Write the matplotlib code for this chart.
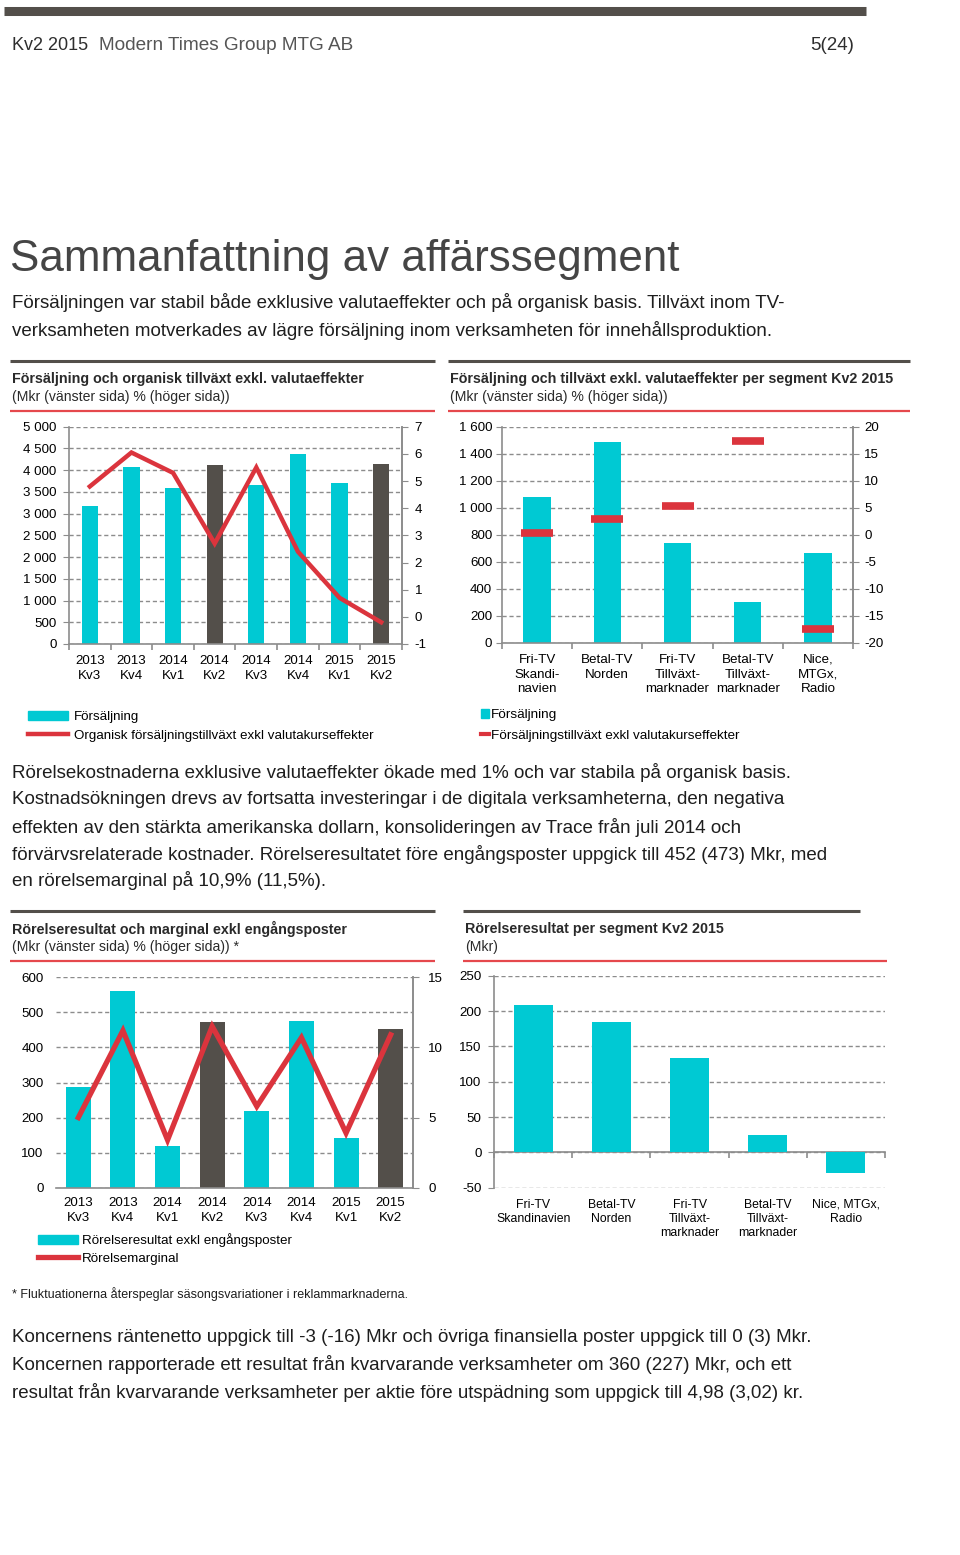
import matplotlib
matplotlib.use("Agg")
import matplotlib.pyplot as plt
import numpy as np
from matplotlib.lines import Line2D
from matplotlib.patches import Patch

W, H = 960, 1555

CYAN = "#00C9D3"
DARK = "#534F4A"
RED = "#DB343D"
RULE_RED = "#E5484D"
GRID = "#8C8C8C"
SPINE = "#8C8C8C"
TEXT = "#1E1E1E"

plt.rcParams["font.family"] = ["Liberation Sans", "DejaVu Sans"]
plt.rcParams["axes.unicode_minus"] = False

# --- data -------------------------------------------------------------
quarters = ["2013\nKv3", "2013\nKv4", "2014\nKv1", "2014\nKv2",
            "2014\nKv3", "2014\nKv4", "2015\nKv1", "2015\nKv2"]
q_highlight = [False, False, False, True, False, False, False, True]

sales = [3185, 4065, 3600, 4110, 3665, 4375, 3695, 4150]
organic_growth = [4.8, 6.05, 5.3, 2.7, 5.5, 2.4, 0.7, -0.2]

segments_a = ["Fri-TV\nSkandi-\nnavien", "Betal-TV\nNorden", "Fri-TV\nTillväxt-\nmarknader",
              "Betal-TV\nTillväxt-\nmarknader", "Nice,\nMTGx,\nRadio"]
segment_sales = [1080, 1490, 740, 305, 667]
segment_growth = [0.4, 2.9, 5.4, 17.4, -17.5]

ebit = [287, 562, 118, 473, 220, 476, 143, 452]
ebit_margin = [5.0, 11.2, 3.4, 11.5, 5.8, 10.7, 3.9, 10.9]

segments_b = ["Fri-TV\nSkandinavien", "Betal-TV\nNorden", "Fri-TV\nTillväxt-\nmarknader",
              "Betal-TV\nTillväxt-\nmarknader", "Nice, MTGx,\nRadio"]
segment_ebit = [208, 185, 133, 25, -29]


def sp(v):
    return f"{int(v):,}".replace(",", " ")


def axes_px(fig, left, top, right, bottom):
    return fig.add_axes([left / W, 1 - bottom / H, (right - left) / W, (bottom - top) / H])


def text_px(fig, x, y, s, **kw):
    kw.setdefault("va", "center")
    kw.setdefault("color", TEXT)
    fig.text(x / W, 1 - y / H, s, **kw)


def rule(fig, x0, x1, y, color, lw):
    fig.add_artist(Line2D([x0 / W, x1 / W], [1 - y / H, 1 - y / H],
                          color=color, lw=lw, solid_capstyle="butt"))


def header(fig, x0, x1, y_top, title, subtitle, x1_red=None):
    rule(fig, x0, x1, y_top, DARK, 2.2)
    text_px(fig, x0 + 2, y_top + 18, title, fontsize=10.3, fontweight="bold", color="#2a2a2a")
    text_px(fig, x0 + 2, y_top + 36, subtitle, fontsize=10.1, color="#2a2a2a")
    rule(fig, x0, x1_red or x1, y_top + 50, RULE_RED, 1.6)


def style_axis(ax, n):
    ax.spines["top"].set_visible(False)
    for s in ["left", "right", "bottom"]:
        ax.spines[s].set_color(SPINE)
        ax.spines[s].set_linewidth(1.2)
    ax.set_xlim(-0.5, n - 0.5)
    ax.set_xticks(np.arange(n))
    ax.set_xticks(np.arange(n + 1) - 0.5, minor=True)
    ax.tick_params(axis="x", which="major", length=0)
    ax.tick_params(axis="x", which="minor", length=4, color=SPINE, width=1.2)
    ax.yaxis.grid(True, color=GRID, ls=(0, (3, 2)), lw=1.0)
    ax.set_axisbelow(True)


def style_right(ax2):
    ax2.spines["top"].set_visible(False)
    ax2.spines["right"].set_color(SPINE)
    ax2.spines["right"].set_linewidth(1.2)
    ax2.spines["left"].set_visible(False)
    ax2.spines["bottom"].set_visible(False)
    ax2.tick_params(axis="y", length=4, color=SPINE, pad=5, labelsize=9.6)


fig = plt.figure(figsize=(W / 100, H / 100), dpi=100)

# --- page header ------------------------------------------------------
rule(fig, 4, 866, 11, DARK, 6.5)
text_px(fig, 12, 46, "Kv2 2015", fontsize=13, color="#2e2e2e")
text_px(fig, 99, 46, "Modern Times Group MTG AB", fontsize=13.7, color="#555555")
text_px(fig, 854, 46, "5(24)", fontsize=13.5, color="#2e2e2e", ha="right")

text_px(fig, 10, 259, "Sammanfattning av affärssegment", fontsize=31.7, color="#454545")
text_px(fig, 12, 303, "Försäljningen var stabil både exklusive valutaeffekter och på organisk basis. Tillväxt inom TV-",
        fontsize=13.5)
text_px(fig, 12, 330, "verksamheten motverkades av lägre försäljning inom verksamheten för innehållsproduktion.",
        fontsize=13.5)

# --- chart 1 ----------------------------------------------------------
header(fig, 10, 435, 361, "Försäljning och organisk tillväxt exkl. valutaeffekter",
       "(Mkr (vänster sida) % (höger sida))")
ax = axes_px(fig, 69, 426.7, 402, 644)
n = len(quarters)
x = np.arange(n)
ax.bar(x, sales, width=0.39, color=[DARK if h else CYAN for h in q_highlight], zorder=2)
style_axis(ax, n)
ax.set_ylim(0, 5000)
ax.set_yticks(np.arange(0, 5001, 500))
ax.set_yticklabels([sp(v) for v in np.arange(0, 5001, 500)])
ax.set_xticklabels(quarters, linespacing=1.3)
ax.tick_params(axis="x", which="major", pad=8, labelsize=9.6)
ax.tick_params(axis="y", length=4, color=SPINE, pad=5, labelsize=9.6)
ax2 = ax.twinx()
ax2.plot(x, organic_growth, color=RED, lw=3.2, solid_joinstyle="miter")
ax2.set_ylim(-1, 7)
ax2.set_yticks(np.arange(-1, 8, 1))
style_right(ax2)
ax.legend([Patch(color=CYAN), Line2D([], [], color=RED, lw=3.2)],
          ["Försäljning", "Organisk försäljningstillväxt exkl valutakurseffekter"],
          loc="upper left", bbox_to_anchor=(28 / W, 1 - 711 / H), bbox_transform=fig.transFigure,
          frameon=False, fontsize=9.65, handlelength=3.0, handletextpad=0.4,
          borderpad=0, borderaxespad=0, labelspacing=0.45)

# --- chart 2 ----------------------------------------------------------
header(fig, 448, 910, 361, "Försäljning och tillväxt exkl. valutaeffekter per segment Kv2 2015",
       "(Mkr (vänster sida) % (höger sida))")
ax = axes_px(fig, 502, 426.7, 853, 642.7)
n = len(segments_a)
x = np.arange(n)
ax.bar(x, segment_sales, width=0.39, color=CYAN, zorder=2)
style_axis(ax, n)
ax.set_ylim(0, 1600)
ax.set_yticks(np.arange(0, 1601, 200))
ax.set_yticklabels([sp(v) for v in np.arange(0, 1601, 200)])
ax.set_xticklabels(segments_a, linespacing=1.3)
ax.tick_params(axis="x", which="major", pad=8, labelsize=9.6)
ax.tick_params(axis="y", length=4, color=SPINE, pad=3, labelsize=9.6)
ax2 = ax.twinx()
ax2.plot(x, segment_growth, ls="none", marker="_", ms=23, mew=5.5, color=RED)
ax2.set_ylim(-20, 20)
ax2.set_yticks(np.arange(-20, 21, 5))
style_right(ax2)
ax2.tick_params(axis="y", pad=4)
ax.legend([Patch(color=CYAN), Line2D([], [], color=RED, lw=3)],
          ["Försäljning", "Försäljningstillväxt exkl valutakurseffekter"],
          loc="upper left", bbox_to_anchor=(481 / W, 1 - 709 / H), bbox_transform=fig.transFigure,
          frameon=False, fontsize=9.7, handlelength=0.6, handletextpad=0.15,
          borderpad=0, borderaxespad=0, labelspacing=0.6)

# --- middle text --------------------------------------------------------
mid_lines = [
    "Rörelsekostnaderna exklusive valutaeffekter ökade med 1% och var stabila på organisk basis.",
    "Kostnadsökningen drevs av fortsatta investeringar i de digitala verksamheterna, den negativa",
    "effekten av den stärkta amerikanska dollarn, konsolideringen av Trace från juli 2014 och",
    "förvärvsrelaterade kostnader. Rörelseresultatet före engångsposter uppgick till 452 (473) Mkr, med",
    "en rörelsemarginal på 10,9% (11,5%).",
]
for i, line in enumerate(mid_lines):
    text_px(fig, 12, 773 + 27 * i, line, fontsize=13.5)

# --- chart 3 ----------------------------------------------------------
header(fig, 10, 435, 911, "Rörelseresultat och marginal exkl engångsposter",
       "(Mkr (vänster sida) % (höger sida)) *")
ax = axes_px(fig, 56, 977.3, 413, 1187.7)
n = len(quarters)
x = np.arange(n)
ax.bar(x, ebit, width=0.56, color=[DARK if h else CYAN for h in q_highlight], zorder=2)
style_axis(ax, n)
ax.spines["left"].set_visible(False)
ax.tick_params(axis="x", which="minor", length=0)
ax.set_ylim(0, 600)
ax.set_yticks(np.arange(0, 601, 100))
ax.set_xticklabels(quarters, linespacing=1.3)
ax.tick_params(axis="x", which="major", pad=7, labelsize=9.6)
ax.tick_params(axis="y", length=0, pad=9, labelsize=9.6)
ax2 = ax.twinx()
ax2.plot(x, ebit_margin, color=RED, lw=3.8, solid_joinstyle="miter")
ax2.set_ylim(0, 15)
ax2.set_yticks(np.arange(0, 16, 5))
style_right(ax2)
ax2.tick_params(axis="y", pad=7)
ax.legend([Patch(color=CYAN), Line2D([], [], color=RED, lw=3.8)],
          ["Rörelseresultat exkl engångsposter", "Rörelsemarginal"],
          loc="upper left", bbox_to_anchor=(38 / W, 1 - 1233 / H), bbox_transform=fig.transFigure,
          frameon=False, fontsize=9.6, handlelength=3.0, handletextpad=0.3,
          borderpad=0, borderaxespad=0, labelspacing=0.4)
text_px(fig, 12, 1294, "* Fluktuationerna återspeglar säsongsvariationer i reklammarknaderna.",
        fontsize=9.0)

# --- chart 4 ----------------------------------------------------------
header(fig, 463, 860, 911, "Rörelseresultat per segment Kv2 2015", "(Mkr)", x1_red=887)
ax = axes_px(fig, 494, 975.7, 885, 1187.7)
n = len(segments_b)
x = np.arange(n)
ax.bar(x, segment_ebit, width=0.5, color=CYAN, zorder=2)
style_axis(ax, n)
ax.spines["right"].set_visible(False)
ax.spines["bottom"].set_visible(False)
ax.tick_params(axis="x", which="minor", length=0)
ax.set_ylim(-50, 250)
ax.set_yticks(np.arange(-50, 251, 50))
ax.set_xticklabels(segments_b, linespacing=1.25)
ax.tick_params(axis="x", which="major", pad=8, labelsize=8.8)
ax.tick_params(axis="y", length=4, color=SPINE, pad=5, labelsize=9.6)
zero = ax.secondary_xaxis(50 / 300)
zero.spines["bottom"].set_color(SPINE)
zero.spines["bottom"].set_linewidth(1.2)
zero.set_xticks(np.arange(n + 1) - 0.5)
zero.set_xticklabels([])
zero.tick_params(axis="x", length=4, color=SPINE, width=1.2)

# --- bottom text --------------------------------------------------------
bottom_lines = [
    "Koncernens räntenetto uppgick till -3 (-16) Mkr och övriga finansiella poster uppgick till 0 (3) Mkr.",
    "Koncernen rapporterade ett resultat från kvarvarande verksamheter om 360 (227) Mkr, och ett",
    "resultat från kvarvarande verksamheter per aktie före utspädning som uppgick till 4,98 (3,02) kr.",
]
for i, line in enumerate(bottom_lines):
    text_px(fig, 12, 1338 + 27 * i, line, fontsize=13.5)

fig.savefig("out.png", dpi=100)
